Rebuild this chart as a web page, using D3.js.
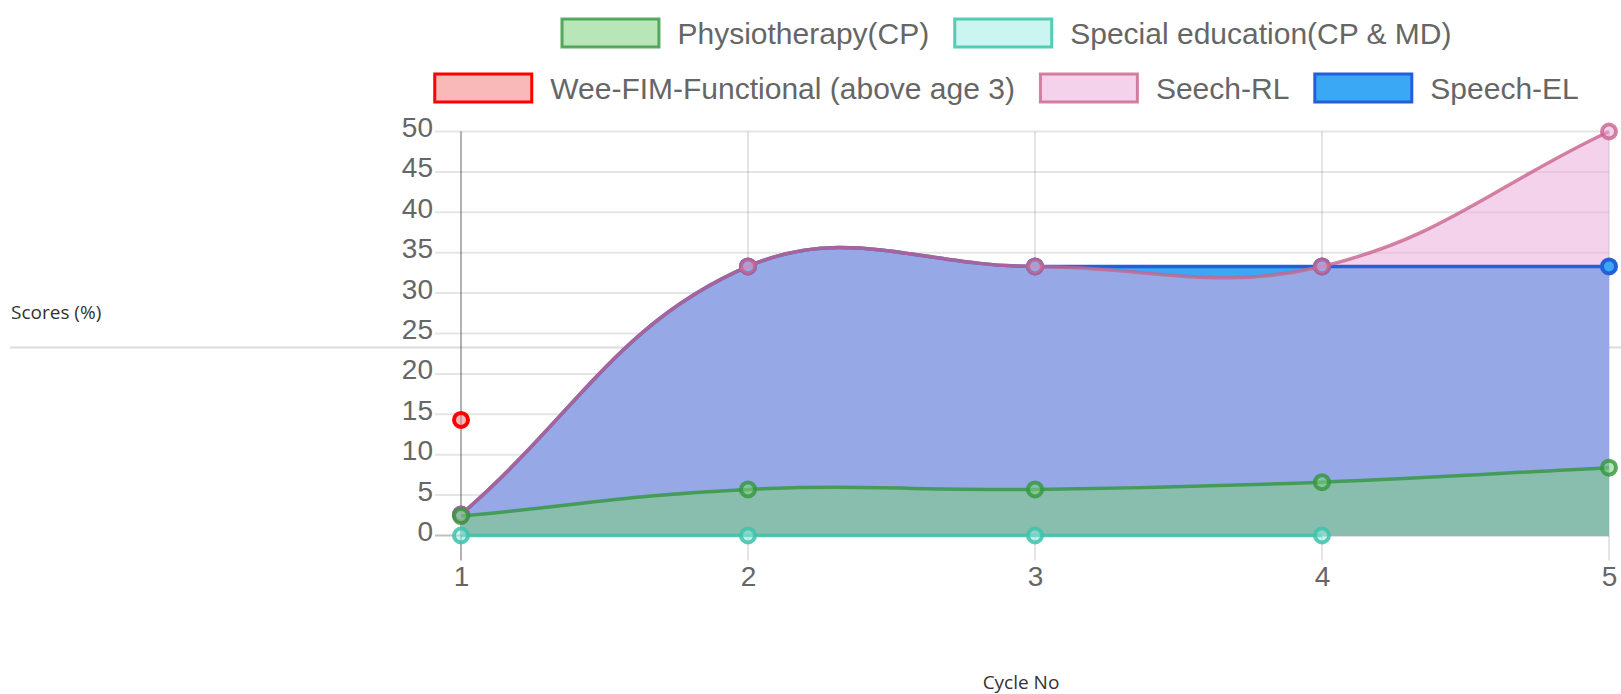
<!DOCTYPE html>
<html>
<head>
<meta charset="utf-8">
<script src="https://cdn.jsdelivr.net/npm/d3@7"></script>
<style>
  body { margin: 0; background: #fff; }
  svg { display: block; }
</style>
</head>
<body>
<div id="chart"></div>
<script>
// data
var cycles = [1, 2, 3, 4, 5];
var yTicks = [0, 5, 10, 15, 20, 25, 30, 35, 40, 45, 50];
var seriesNames = ["Physiotherapy(CP)", "Special education(CP & MD)", "Wee-FIM-Functional (above age 3)", "Seech-RL", "Speech-EL"];
var physio = [2.4, 5.7, 5.7, 6.6, 8.4];
var specialEd = [0, 0, 0, 0, null];
var weeFim = [14.3, null, null, null, null];
var speechRL = [2.6, 33.3, 33.3, 33.3, 50];
var speechEL = [2.6, 33.3, 33.3, 33.3, 33.3];

// styles per series (same order as the names)
var fills = ["rgba(126,209,126,0.54)", "rgba(150,235,225,0.5)", "rgba(245,115,115,0.5)", "rgba(236,168,216,0.52)", "rgb(58,168,245)"];
var borders = ["rgba(50,150,60,0.8)", "rgba(60,195,170,0.85)", "rgb(255,0,0)", "rgba(200,100,140,0.8)", "rgb(35,95,215)"];

var series = [physio, specialEd, weeFim, speechRL, speechEL].map(function (vals, i) {
  return {name: seriesNames[i], values: vals, fill: fills[i], stroke: borders[i]};
});

var W = 1621, H = 694;
var plot = {left: 461, right: 1609, top: 131.5, bottom: 535.5};

var svg = d3.select("#chart").append("svg")
  .attr("width", W)
  .attr("height", H);

var chartFont = "'Helvetica Neue', Helvetica, Arial, 'Liberation Sans', sans-serif";
var titleFont = "'Segoe UI', 'Open Sans', sans-serif";

// page divider line behind the chart
svg.append("line")
  .attr("x1", 10).attr("x2", W)
  .attr("y1", 347.5).attr("y2", 347.5)
  .attr("stroke", "#dcdcdc")
  .attr("stroke-width", 2);

var x = d3.scalePoint().domain(cycles).range([plot.left, plot.right]);
var y = d3.scaleLinear().domain([0, 50]).range([plot.bottom, plot.top]);

// grid
svg.append("g").selectAll("line")
  .data(yTicks).enter().append("line")
  .attr("x1", plot.left - 26).attr("x2", plot.right)
  .attr("y1", function (d) { return y(d); })
  .attr("y2", function (d) { return y(d); })
  .attr("stroke", function (d) { return d === 0 ? "rgba(0,0,0,0.25)" : "rgba(0,0,0,0.1)"; })
  .attr("stroke-width", 2);

svg.append("g").selectAll("line")
  .data(cycles).enter().append("line")
  .attr("x1", function (d) { return x(d); })
  .attr("x2", function (d) { return x(d); })
  .attr("y1", plot.top).attr("y2", plot.bottom + 25)
  .attr("stroke", function (d, i) { return i === 0 ? "rgba(0,0,0,0.3)" : "rgba(0,0,0,0.1)"; })
  .attr("stroke-width", 2);

// tick labels
var yAxis = svg.append("g")
  .attr("transform", "translate(" + (plot.left - 26) + ",0)")
  .call(d3.axisLeft(y).tickValues(yTicks).tickSize(0).tickPadding(2));
yAxis.select(".domain").remove();
yAxis.selectAll("text")
  .attr("dy", "0.18em")
  .style("font-family", chartFont)
  .style("font-size", "28px")
  .attr("fill", "#666");

var xAxis = svg.append("g")
  .attr("transform", "translate(0," + (plot.bottom + 25) + ")")
  .call(d3.axisBottom(x).tickSize(0).tickPadding(6));
xAxis.select(".domain").remove();
xAxis.selectAll("text")
  .style("font-family", chartFont)
  .style("font-size", "28px")
  .attr("fill", "#666");

// chart.js style spline (tension 0.4)
function splinePath(pts, closeToZero) {
  var t = 0.4;
  var cps = pts.map(function (p, i) {
    var prev = pts[i - 1] || p, next = pts[i + 1] || p;
    var d01 = Math.hypot(p[0] - prev[0], p[1] - prev[1]);
    var d12 = Math.hypot(next[0] - p[0], next[1] - p[1]);
    var s01 = d01 / (d01 + d12) || 0, s12 = d12 / (d01 + d12) || 0;
    var fa = t * s01, fb = t * s12;
    return {
      prev: [p[0] - fa * (next[0] - prev[0]), p[1] - fa * (next[1] - prev[1])],
      next: [p[0] + fb * (next[0] - prev[0]), p[1] + fb * (next[1] - prev[1])]
    };
  });
  var path = d3.path();
  path.moveTo(pts[0][0], pts[0][1]);
  for (var i = 1; i < pts.length; i++) {
    path.bezierCurveTo(cps[i - 1].next[0], cps[i - 1].next[1], cps[i].prev[0], cps[i].prev[1], pts[i][0], pts[i][1]);
  }
  if (closeToZero) {
    path.lineTo(pts[pts.length - 1][0], y(0));
    path.lineTo(pts[0][0], y(0));
    path.closePath();
  }
  return path.toString();
}

function pointsOf(s) {
  var pts = [];
  s.values.forEach(function (v, i) {
    if (v !== null) pts.push([x(cycles[i]), y(v)]);
  });
  return pts;
}

// last dataset drawn first; all fills go under all lines
var drawOrder = series.slice().reverse();
var fillLayer = svg.append("g");
var lineLayer = svg.append("g");

drawOrder.forEach(function (s) {
  var pts = pointsOf(s);
  if (pts.length > 1) {
    fillLayer.append("path")
      .attr("d", splinePath(pts, true))
      .attr("fill", s.fill);
  }
});

drawOrder.forEach(function (s) {
  var pts = pointsOf(s);
  var g = lineLayer.append("g");
  if (pts.length > 1) {
    g.append("path")
      .attr("d", splinePath(pts, false))
      .attr("fill", "none")
      .attr("stroke", s.stroke)
      .attr("stroke-width", 3.5);
  }
  g.selectAll("circle")
    .data(pts).enter().append("circle")
    .attr("cx", function (d) { return d[0]; })
    .attr("cy", function (d) { return d[1]; })
    .attr("r", 7)
    .attr("fill", s.fill)
    .attr("stroke", s.stroke)
    .attr("stroke-width", 4);
});

// legend, wrapped into rows and centred
var legendFont = 30, boxW = 100, boxH = 31, boxGap = 17, itemGap = 24, maxRow = 1232, centerX = 1006;
var rowY = [33, 88];
var measure = svg.append("text")
  .style("font-family", chartFont)
  .style("font-size", legendFont + "px");
var items = series.map(function (s) {
  measure.text(s.name);
  return {s: s, w: boxW + boxGap + measure.node().getComputedTextLength()};
});
measure.remove();

var rows = [[]], rowW = [0];
items.forEach(function (it) {
  var r = rows.length - 1;
  var add = (rows[r].length ? itemGap : 0) + it.w;
  if (rows[r].length && rowW[r] + add > maxRow) {
    rows.push([it]); rowW.push(it.w);
  } else {
    rows[r].push(it); rowW[r] += add;
  }
});

rows.forEach(function (row, r) {
  var cx = centerX - rowW[r] / 2;
  row.forEach(function (it) {
    var g = svg.append("g").attr("transform", "translate(" + cx + "," + rowY[r] + ")");
    g.append("rect")
      .attr("x", 1.5).attr("y", -boxH / 2 + 1.5)
      .attr("width", boxW - 3).attr("height", boxH - 3)
      .attr("fill", it.s.fill)
      .attr("stroke", it.s.stroke)
      .attr("stroke-width", 3);
    g.append("text")
      .attr("x", boxW + boxGap)
      .attr("dy", "0.35em")
      .style("font-family", chartFont)
      .style("font-size", legendFont + "px")
      .attr("fill", "#666")
      .text(it.s.name);
    cx += it.w + itemGap;
  });
});

// axis titles
svg.append("text")
  .attr("x", 11).attr("y", 312)
  .attr("dy", "0.35em")
  .style("font-family", titleFont)
  .style("font-size", "19px")
  .attr("fill", "#333")
  .text("Scores (%)");

svg.append("text")
  .attr("x", 1021).attr("y", 682)
  .attr("dy", "0.35em")
  .attr("text-anchor", "middle")
  .style("font-family", titleFont)
  .style("font-size", "19px")
  .attr("fill", "#333")
  .text("Cycle No");
</script>
</body>
</html>
